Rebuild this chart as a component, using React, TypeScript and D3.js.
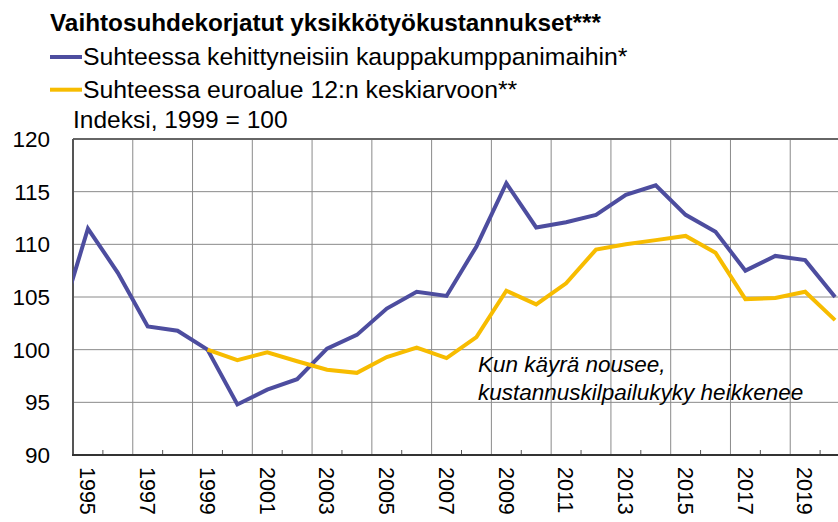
import React from "react";
import * as d3 from "d3";

// Data (index, 1999 = 100)
const blueYears = d3.range(1994, 2021);
const blueValues = [
  102.1, 111.5, 107.3, 102.2, 101.8, 100.0, 94.8, 96.2, 97.2, 100.1, 101.4, 103.9, 105.5, 105.1,
  109.8, 115.8, 111.6, 112.1, 112.8, 114.7, 115.6, 112.8, 111.2, 107.5, 108.9, 108.5, 105.0,
];
const yellowYears = d3.range(1999, 2021);
const yellowValues = [
  100.0, 99.0, 99.75, 98.9, 98.1, 97.8, 99.3, 100.2, 99.2, 101.2, 105.6, 104.3, 106.3, 109.5,
  110.0, 110.4, 110.8, 109.2, 104.8, 104.9, 105.5, 102.8,
];
const yTicks = [90, 95, 100, 105, 110, 115, 120];
const labelYears = d3.range(1995, 2021, 2);

const title = "Vaihtosuhdekorjatut yksikkötyökustannukset***";
const legendItems = [
  { label: "Suhteessa kehittyneisiin kauppakumppanimaihin*", color: "#4d4d9f" },
  { label: "Suhteessa euroalue 12:n keskiarvoon**", color: "#f7bc00" },
];

const W = 838;
const H = 522;
const left = 73;
const right = 850;
const top = 139;
const bottom = 455;

export default function App() {
  const x = d3.scaleLinear().domain([1994.5, 2020.5]).range([left, right]);
  const y = d3.scaleLinear().domain([90, 120]).range([bottom, top]);

  const line = d3
    .line<[number, number]>()
    .x((d) => x(d[0]))
    .y((d) => y(d[1]));

  const bluePts = blueYears.map((yr, i) => [yr, blueValues[i]] as [number, number]);
  const yellowPts = yellowYears.map((yr, i) => [yr, yellowValues[i]] as [number, number]);

  const majorGrid = d3.range(1996.5, 2020, 2);
  const minorTicks = d3.range(1995.5, 2021, 2);

  const font = "Arial, 'Liberation Sans', sans-serif";

  return (
    <svg
      width={W}
      height={H}
      style={{ position: "absolute", left: 0, top: 0, background: "#fff" }}
      fontFamily={font}
    >
      <defs>
        <clipPath id="plot">
          <rect x={left} y={top - 5} width={right - left} height={bottom - top + 10} />
        </clipPath>
      </defs>

      {/* title and legend */}
      <text x={50} y={31} fontSize={24.3} fontWeight="bold" fill="#000">
        {title}
      </text>
      {legendItems.map((item, i) => (
        <g key={item.label} transform={`translate(0, ${57 + i * 32.7})`}>
          <line x1={50} x2={82} y1={0} y2={0} stroke={item.color} strokeWidth={4} />
          <text x={83} y={8.3} fontSize={24.8} fill="#000">
            {item.label}
          </text>
        </g>
      ))}
      <text x={73} y={128} fontSize={24.5} fill="#000">
        Indeksi, 1999 = 100
      </text>

      {/* grid */}
      {yTicks.map((t) => (
        <line key={t} x1={left} x2={W} y1={y(t)} y2={y(t)} stroke="#8a8a8a" strokeWidth={1} />
      ))}
      {majorGrid.map((g) => (
        <line key={g} x1={x(g)} x2={x(g)} y1={top} y2={bottom} stroke="#8a8a8a" strokeWidth={1} />
      ))}
      <line x1={left} x2={W} y1={top} y2={top} stroke="#666" strokeWidth={2} />
      <line x1={left} x2={left} y1={top} y2={bottom} stroke="#555" strokeWidth={2} />

      {/* y labels */}
      {yTicks.map((t) => (
        <text key={t} x={50} y={y(t)} dy="0.36em" textAnchor="end" fontSize={22.5} fill="#000">
          {t}
        </text>
      ))}

      {/* series */}
      <g clipPath="url(#plot)">
        <path d={line(bluePts) || ""} fill="none" stroke={legendItems[0].color} strokeWidth={4} />
        <path d={line(yellowPts) || ""} fill="none" stroke={legendItems[1].color} strokeWidth={4} />
      </g>

      {/* x axis */}
      {minorTicks.map((m) => (
        <line key={m} x1={x(m)} x2={x(m)} y1={bottom - 5} y2={bottom} stroke="#555" strokeWidth={1} />
      ))}
      <line x1={left - 1} x2={W} y1={bottom} y2={bottom} stroke="#333" strokeWidth={2} />
      {labelYears.map((yr) => (
        <text
          key={yr}
          transform={`translate(${x(yr)}, 467) rotate(90)`}
          dy="0.36em"
          fontSize={21.5}
          fill="#000"
        >
          {yr}
        </text>
      ))}

      {/* annotation */}
      <text x={478} y={372} fontSize={22.5} fontStyle="italic" fill="#000">
        Kun käyrä nousee,
      </text>
      <text x={478} y={400} fontSize={22.5} fontStyle="italic" fill="#000">
        kustannuskilpailukyky heikkenee
      </text>
    </svg>
  );
}
